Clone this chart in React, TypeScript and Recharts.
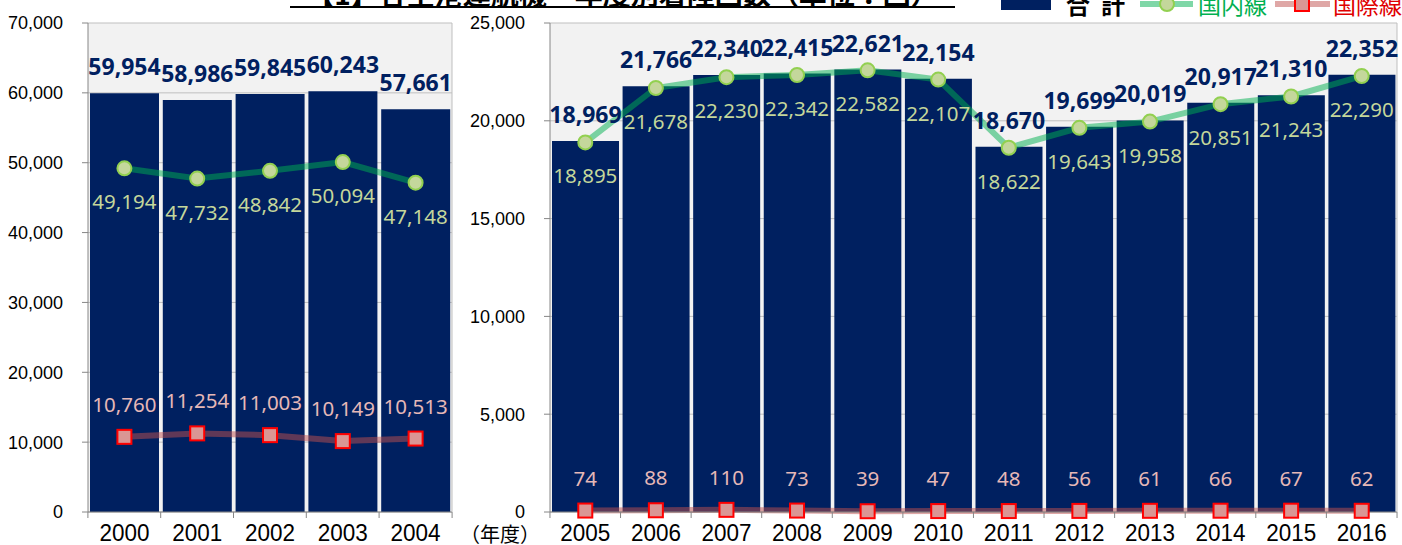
import React from 'react'
import { ComposedChart, Bar, Line, XAxis, YAxis, CartesianGrid, LabelList } from 'recharts'

// 2000-2004
const yearsA = ['2000', '2001', '2002', '2003', '2004']
const totalA = [59954, 58986, 59845, 60243, 57661]
const domesticA = [49194, 47732, 48842, 50094, 47148]
const intlA = [10760, 11254, 11003, 10149, 10513]
const ticksA = [0, 10000, 20000, 30000, 40000, 50000, 60000, 70000]

// 2005-2016
const yearsB = ['2005', '2006', '2007', '2008', '2009', '2010', '2011', '2012', '2013', '2014', '2015', '2016']
const totalB = [18969, 21766, 22340, 22415, 22621, 22154, 18670, 19699, 20019, 20917, 21310, 22352]
const domesticB = [18895, 21678, 22230, 22342, 22582, 22107, 18622, 19643, 19958, 20851, 21243, 22290]
const intlB = [74, 88, 110, 73, 39, 47, 48, 56, 61, 66, 67, 62]
const ticksB = [0, 5000, 10000, 15000, 20000, 25000]

const NAVY = '#002060'
const GREEN = '#00b050'
const RED = '#c0504d'
const H = 545
const TOP = 23
const XH = 33

const fmt = (v: any) => Number(v).toLocaleString('en-US')

const labelFont = '"Noto Sans", "Open Sans", sans-serif'
const axisFont = '"Liberation Sans", Arial, sans-serif'

function XTick({ x, y, payload, index, bw, n }: any) {
  return (
    <g>
      <line x1={x - bw / 2} x2={x - bw / 2} y1={y} y2={y + 6} stroke="#868686" />
      {index === n - 1 && <line x1={x + bw / 2} x2={x + bw / 2} y1={y} y2={y + 6} stroke="#868686" />}
      <text x={x} y={y + 29} textAnchor="middle" fontFamily={axisFont} fontSize={24} fill="#000"
        textLength={50} lengthAdjust="spacingAndGlyphs">{payload.value}</text>
    </g>
  )
}

function Dot({ cx, cy }: any) {
  return <circle cx={cx} cy={cy} r={7} fill="#c4d79b" stroke="#92d050" strokeWidth={2} />
}

function Square({ cx, cy }: any) {
  return <rect x={cx - 7} y={cy - 7} width={14} height={14} fill="#da9694" stroke="#ff0000" strokeWidth={2} />
}

function Panel({ years, total, dom, intl, ticks, max, width, yWidth, right }: any) {
  const data = years.map((y: string, i: number) => ({ year: y, total: total[i], dom: dom[i], intl: intl[i] }))
  const bw = (width - yWidth - right) / years.length
  return (
    <ComposedChart width={width} height={H} data={data} margin={{ top: TOP, right, bottom: 0, left: 0 }}
      barCategoryGap={2}>
      <CartesianGrid vertical={false} stroke="#bfbfbf" fill="#f2f2f2" fillOpacity={1} />
      <XAxis dataKey="year" height={XH} tickSize={0} tickMargin={0} axisLine={{ stroke: '#868686' }}
        tickLine={false} interval={0} tick={<XTick bw={bw} n={years.length} />} />
      <YAxis width={yWidth} domain={[0, max]} ticks={ticks} tickFormatter={fmt} tickSize={6} tickMargin={19}
        axisLine={{ stroke: '#868686' }} tickLine={{ stroke: '#868686' }}
        tick={{ fontSize: 18, fill: '#000', fontFamily: axisFont }} />
      <YAxis yAxisId="edge" orientation="right" width={1} tick={false} tickLine={false}
        axisLine={{ stroke: '#bfbfbf' }} />
      <Bar dataKey="total" fill={NAVY} isAnimationActive={false}>
        <LabelList dataKey="total" content={(p: any) => (
          <text x={p.x + p.width / 2} y={p.y - 18} textAnchor="middle" fontFamily={labelFont}
            fontWeight={700} fontSize={23} fill={NAVY}>{fmt(p.value)}</text>
        )} />
      </Bar>
      <Line dataKey="dom" stroke={GREEN} strokeOpacity={0.5} strokeWidth={6} dot={<Dot />}
        activeDot={false} isAnimationActive={false}>
        <LabelList dataKey="dom" content={(p: any) => (
          <text x={p.x} y={p.y + 41} textAnchor="middle" fontFamily={labelFont}
            fontSize={20.5} fill="#c4d79b">{fmt(p.value)}</text>
        )} />
      </Line>
      <Line dataKey="intl" stroke={RED} strokeOpacity={0.5} strokeWidth={6} dot={<Square />}
        activeDot={false} isAnimationActive={false}>
        <LabelList dataKey="intl" content={(p: any) => (
          <text x={p.x} y={p.y - 25} textAnchor="middle" fontFamily={labelFont}
            fontSize={20.5} fill="#e6b8b7">{fmt(p.value)}</text>
        )} />
      </Line>
    </ComposedChart>
  )
}

function LegendBar() {
  const f = '"Noto Sans CJK JP", sans-serif'
  return (
    <svg width={1402} height={30} style={{ position: 'absolute', left: 0, top: 0 }}>
      <rect x={1001} y={0} width={50} height={10} fill={NAVY} />
      <text x={1066} y={14} fontFamily={f} fontWeight={700} fontSize={24} fill="#000">合</text>
      <text x={1101} y={14} fontFamily={f} fontWeight={700} fontSize={24} fill="#000">計</text>
      <line x1={1140} x2={1193} y1={4} y2={4} stroke={GREEN} strokeOpacity={0.5} strokeWidth={6} />
      <circle cx={1167} cy={4} r={7} fill="#c4d79b" stroke="#92d050" strokeWidth={2} />
      <text x={1198} y={14} fontFamily={f} fontSize={23} fill={GREEN}>国内線</text>
      <line x1={1275} x2={1330} y1={4} y2={4} stroke={RED} strokeOpacity={0.5} strokeWidth={6} />
      <rect x={1295} y={-3} width={14} height={14} fill="#da9694" stroke="#ff0000" strokeWidth={2} />
      <text x={1333} y={14} fontFamily={f} fontSize={23} fill="#e00000">国際線</text>
    </svg>
  )
}

export default function App() {
  return (
    <div style={{ position: 'fixed', left: 0, top: 0, width: 1402, height: H, overflow: 'hidden', background: '#fff' }}>
      <div style={{ position: 'absolute', left: 0, top: 0 }}>
        <Panel years={yearsA} total={totalA} dom={domesticA} intl={intlA} ticks={ticksA} max={70000}
          width={460} yWidth={88} right={7} />
      </div>
      <div style={{ position: 'absolute', left: 460, top: 0 }}>
        <Panel years={yearsB} total={totalB} dom={domesticB} intl={intlB} ticks={ticksB} max={25000}
          width={942} yWidth={90} right={4} />
      </div>
      <div style={{ position: 'absolute', left: 290, width: 665, top: -21, textAlign: 'center', whiteSpace: 'nowrap',
        fontFamily: '"Noto Sans CJK JP", sans-serif', fontWeight: 700, fontSize: 28, lineHeight: '28px', color: '#000' }}>
        【1】各空港運航機・年度別着陸回数（単位：回）
      </div>
      <div style={{ position: 'absolute', left: 290, width: 665, top: 6, height: 2, background: '#000' }} />
      <div style={{ position: 'absolute', left: 460, top: 523, fontFamily: '"Noto Sans CJK JP", sans-serif',
        fontSize: 20, lineHeight: '22px', color: '#000' }}>（年度）</div>
      <LegendBar />
    </div>
  )
}
